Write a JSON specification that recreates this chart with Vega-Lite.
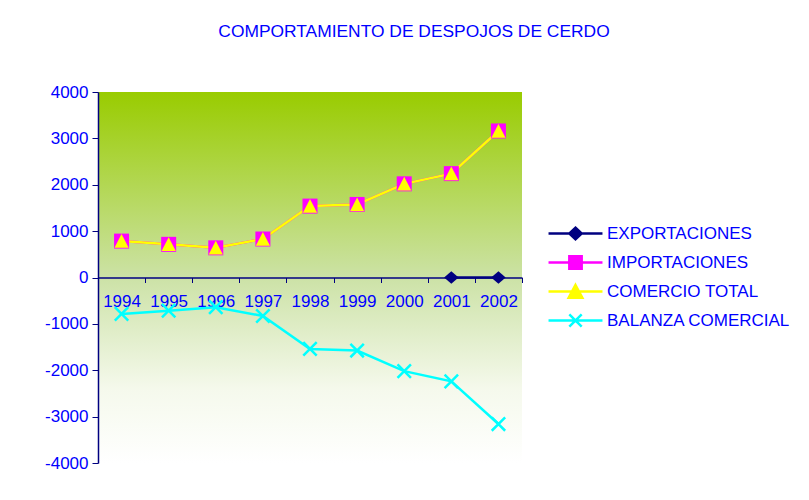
{
  "$schema": "https://vega.github.io/schema/vega-lite/v6.json",
  "width": 424,
  "height": 371,
  "autosize": {"type": "none"},
  "padding": {"left": 98, "top": 92, "right": 287, "bottom": 37},
  "background": "white",
  "title": {
    "text": "COMPORTAMIENTO DE DESPOJOS DE CERDO",
    "font": "Liberation Sans",
    "fontSize": 17.4,
    "fontWeight": "normal",
    "color": "#0000FF",
    "anchor": "middle",
    "dx": 104,
    "offset": 43
  },
  "config": {
    "view": {
      "stroke": null,
      "fill": {
        "gradient": "linear",
        "x1": 0, "y1": 0, "x2": 0, "y2": 1,
        "stops": [
          {"offset": 0, "color": "#99CC00"},
          {"offset": 0.5, "color": "#CCE2A6"},
          {"offset": 0.8, "color": "#F5F9EC"},
          {"offset": 1, "color": "#FFFFFF"}
        ]
      }
    },
    "axis": {
      "labelFont": "Liberation Sans",
      "labelFontSize": 17,
      "labelColor": "#0000FF",
      "domainColor": "#000080",
      "tickColor": "#000080",
      "grid": false,
      "title": null
    },
    "legend": {
      "orient": "none",
      "legendX": 469,
      "legendY": 133,
      "title": null,
      "symbolSize": 169,
      "symbolStrokeWidth": 2.5,
      "symbolOpacity": 1,
      "labelFont": "Liberation Sans",
      "labelFontSize": 17,
      "labelColor": "#0000FF",
      "labelLimit": 400,
      "labelOffset": 23,
      "rowPadding": 6
    }
  },
  "data": {
    "values": [
      {"year": "2001", "serie": "EXPORTACIONES", "value": 0},
      {"year": "2002", "serie": "EXPORTACIONES", "value": 0},
      {"year": "1994", "serie": "IMPORTACIONES", "value": 785},
      {"year": "1995", "serie": "IMPORTACIONES", "value": 715},
      {"year": "1996", "serie": "IMPORTACIONES", "value": 640},
      {"year": "1997", "serie": "IMPORTACIONES", "value": 830},
      {"year": "1998", "serie": "IMPORTACIONES", "value": 1540},
      {"year": "1999", "serie": "IMPORTACIONES", "value": 1575},
      {"year": "2000", "serie": "IMPORTACIONES", "value": 2020},
      {"year": "2001", "serie": "IMPORTACIONES", "value": 2240},
      {"year": "2002", "serie": "IMPORTACIONES", "value": 3160},
      {"year": "1994", "serie": "COMERCIO TOTAL", "value": 785},
      {"year": "1995", "serie": "COMERCIO TOTAL", "value": 715},
      {"year": "1996", "serie": "COMERCIO TOTAL", "value": 640},
      {"year": "1997", "serie": "COMERCIO TOTAL", "value": 830},
      {"year": "1998", "serie": "COMERCIO TOTAL", "value": 1540},
      {"year": "1999", "serie": "COMERCIO TOTAL", "value": 1575},
      {"year": "2000", "serie": "COMERCIO TOTAL", "value": 2020},
      {"year": "2001", "serie": "COMERCIO TOTAL", "value": 2240},
      {"year": "2002", "serie": "COMERCIO TOTAL", "value": 3160},
      {"year": "1994", "serie": "BALANZA COMERCIAL", "value": -785},
      {"year": "1995", "serie": "BALANZA COMERCIAL", "value": -715},
      {"year": "1996", "serie": "BALANZA COMERCIAL", "value": -640},
      {"year": "1997", "serie": "BALANZA COMERCIAL", "value": -830},
      {"year": "1998", "serie": "BALANZA COMERCIAL", "value": -1540},
      {"year": "1999", "serie": "BALANZA COMERCIAL", "value": -1575},
      {"year": "2000", "serie": "BALANZA COMERCIAL", "value": -2020},
      {"year": "2001", "serie": "BALANZA COMERCIAL", "value": -2240},
      {"year": "2002", "serie": "BALANZA COMERCIAL", "value": -3160}
    ]
  },
  "encoding": {
    "x": {
      "field": "year",
      "type": "ordinal",
      "sort": null,
      "scale": {"type": "band", "paddingInner": 0, "paddingOuter": 0, "domain": ["1994","1995","1996","1997","1998","1999","2000","2001","2002"]},
      "axis": {
        "orient": "bottom",
        "offset": -185.5,
        "labelAngle": 0,
        "tickBand": "extent",
        "tickSize": 5,
        "labelPadding": 11,
        "domainWidth": 1.5
      }
    },
    "y": {
      "field": "value",
      "type": "quantitative",
      "scale": {"domain": [-4000, 4000], "nice": false, "zero": false},
      "axis": {
        "values": [-4000, -3000, -2000, -1000, 0, 1000, 2000, 3000, 4000],
        "labelExpr": "toString(datum.value)",
        "tickSize": 6,
        "labelPadding": 4,
        "domainWidth": 1.5
      }
    }
  },
  "layer": [
    {
      "mark": {"type": "point", "filled": true, "opacity": 0},
      "encoding": {
        "color": {
          "field": "serie",
          "type": "nominal",
          "sort": null,
          "scale": {
            "domain": ["EXPORTACIONES", "IMPORTACIONES", "COMERCIO TOTAL", "BALANZA COMERCIAL"],
            "range": ["#000080", "#FF00FF", "#FFFF00", "#00FFFF"]
          }
        },
        "stroke": {
          "field": "serie",
          "type": "nominal",
          "sort": null,
          "scale": {
            "domain": ["EXPORTACIONES", "IMPORTACIONES", "COMERCIO TOTAL", "BALANZA COMERCIAL"],
            "range": ["#000080", "#FF00FF", "#FFFF00", "#00FFFF"]
          }
        },
        "shape": {
          "field": "serie",
          "type": "nominal",
          "sort": null,
          "scale": {
            "domain": ["EXPORTACIONES", "IMPORTACIONES", "COMERCIO TOTAL", "BALANZA COMERCIAL"],
            "range": [
              "M-4.15,0L4.15,0M0,-0.9L0.95,0L0,0.9L-0.95,0Z",
              "M-4.15,0L4.15,0M-0.95,-0.95L0.95,-0.95L0.95,0.95L-0.95,0.95Z",
              "M-4.15,0L4.15,0M0,-1L1.05,0.95L-1.05,0.95Z",
              "M-4.15,0L4.15,0M-0.95,-0.95L0.95,0.95M-0.95,0.95L0.95,-0.95"
            ]
          }
        }
      }
    },
    {
      "mark": {"type": "line", "strokeWidth": 2.5},
      "encoding": {
        "stroke": {"field": "serie", "type": "nominal", "sort": null}
      }
    },
    {
      "transform": [{"filter": "datum.serie === 'EXPORTACIONES'"}],
      "mark": {"type": "point", "filled": true, "opacity": 1, "color": "#000080", "size": 210, "shape": "M0,-0.85L1,0L0,0.85L-1,0Z"},
      "encoding": {}
    },
    {
      "transform": [{"filter": "datum.serie === 'IMPORTACIONES'"}],
      "mark": {"type": "point", "filled": true, "opacity": 1, "color": "#FF00FF", "size": 225, "shape": "M-1,-1L1,-1L1,1L-1,1Z"},
      "encoding": {}
    },
    {
      "transform": [{"filter": "datum.serie === 'COMERCIO TOTAL'"}],
      "mark": {"type": "point", "filled": true, "opacity": 1, "color": "#FFFF00", "size": 200, "shape": "M0,-1L1,0.95L-1,0.95Z"},
      "encoding": {}
    },
    {
      "transform": [{"filter": "datum.serie === 'BALANZA COMERCIAL'"}],
      "mark": {"type": "point", "filled": false, "opacity": 1, "color": "#00FFFF", "size": 180, "strokeWidth": 2.5, "shape": "M-1,-1L1,1M-1,1L1,-1"},
      "encoding": {}
    }
  ]
}
